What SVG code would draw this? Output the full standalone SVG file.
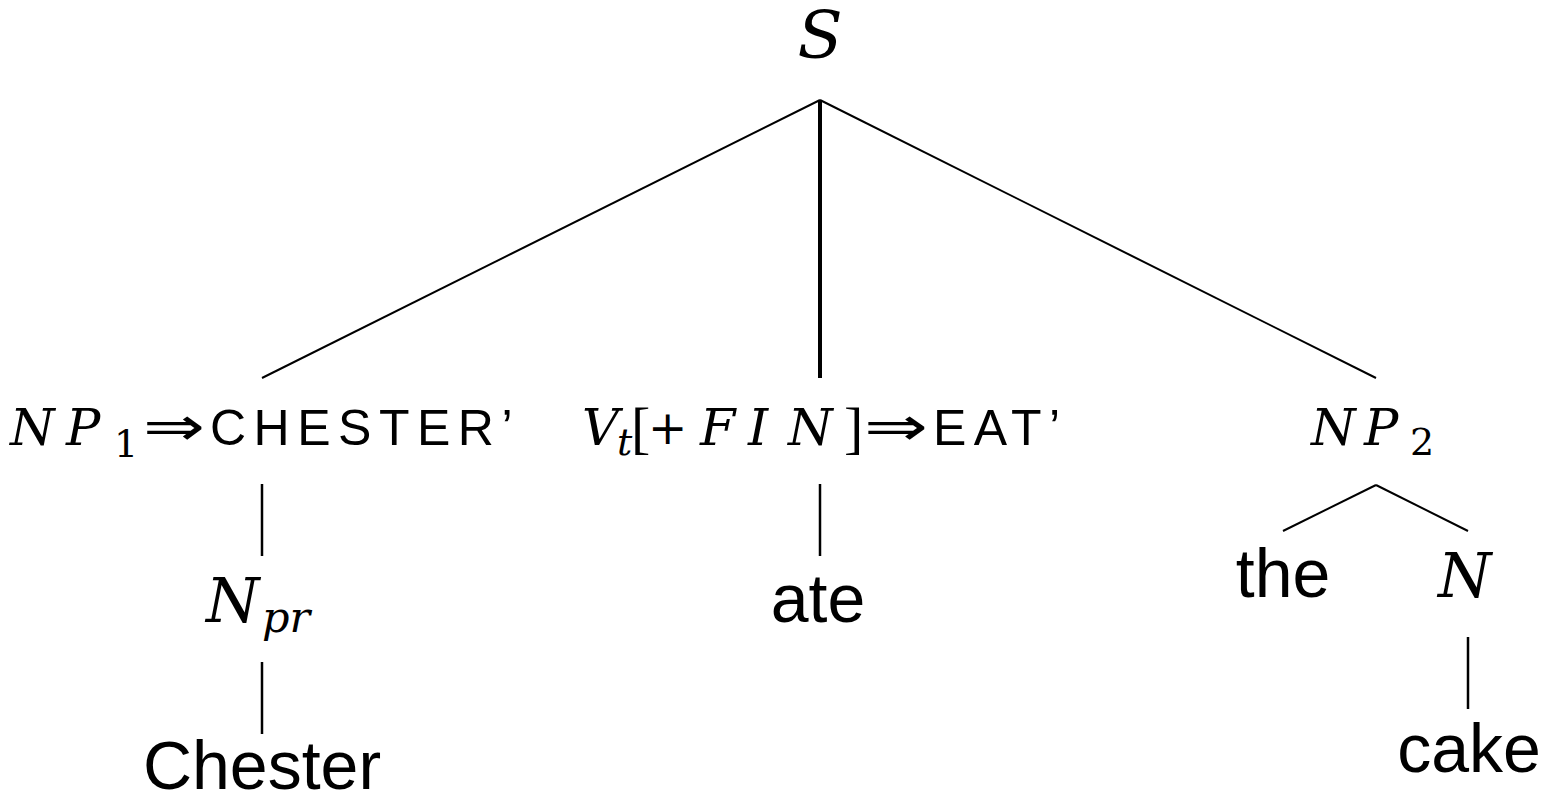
<svg xmlns="http://www.w3.org/2000/svg" width="1548" height="804" viewBox="0 0 1548 804">
<style>
.m{font-family:"DejaVu Serif","Liberation Serif",serif;font-style:italic;font-size:51px;fill:#000}
.up{font-family:"DejaVu Serif","Liberation Serif",serif;font-style:normal}
.br{font-family:"Liberation Serif","Times New Roman",serif;font-style:normal;font-size:58px;fill:#000}
.pl{font-family:"DejaVu Serif","Liberation Serif",serif;font-style:normal;font-size:47px;fill:#000}
.sub{font-size:38px}
.arr{font-family:"DejaVu Sans",sans-serif;font-size:54px;fill:#000}
.sc{font-family:"Liberation Sans",Arial,sans-serif;font-size:50px;letter-spacing:7.5px;fill:#000}
.w{font-family:"Liberation Sans",Arial,sans-serif;font-size:68px;fill:#000}
.e{stroke:#000;stroke-width:2;fill:none}
.v{stroke:#000;stroke-width:2.5;fill:none}
</style>
<rect width="1548" height="804" fill="#fff"/>
<g id="connectors">
<line class="e" x1="820" y1="100" x2="262" y2="378"/>
<line class="e" x1="820" y1="100" x2="1376" y2="378"/>
<line class="v" x1="820" y1="100" x2="820" y2="378" style="stroke-width:4"/>
<line class="v" x1="262" y1="484" x2="262" y2="556"/>
<line class="v" x1="262" y1="662" x2="262" y2="734"/>
<line class="v" x1="820" y1="484" x2="820" y2="556"/>
<line class="e" x1="1376" y1="485" x2="1283" y2="531"/>
<line class="e" x1="1376" y1="485" x2="1468" y2="531"/>
<line class="v" x1="1468" y1="637" x2="1468" y2="709"/>
</g>
<g id="S"><text class="m" x="820" y="58" text-anchor="middle" style="font-size:66px">S</text></g>
<g id="NP1">
<text class="m" y="445"><tspan x="10">N</tspan><tspan x="66">P</tspan><tspan class="up sub" x="114" dy="12">1</tspan></text>
<text class="arr" x="143" y="445" textLength="62" lengthAdjust="spacingAndGlyphs">⇒</text>
<text class="sc" x="210" y="445">CHESTER’</text>
</g>
<g id="Vt">
<text class="m" y="445"><tspan x="582">V</tspan><tspan class="sub" x="617" dy="10">t</tspan></text>
<text y="447"><tspan class="br" x="631">[</tspan><tspan class="pl" x="648" dy="-3">+</tspan></text>
<text class="m" y="445"><tspan x="700">F</tspan><tspan x="748">I</tspan><tspan x="788">N</tspan></text>
<text class="br" x="844" y="447">]</text>
<text class="arr" x="864" y="445" textLength="64" lengthAdjust="spacingAndGlyphs">⇒</text>
<text class="sc" x="933" y="445">EAT’</text>
</g>
<g id="NP2">
<text class="m" y="445"><tspan x="1311">N</tspan><tspan x="1364">P</tspan><tspan class="up sub" x="1410" dy="10">2</tspan></text>
</g>
<g id="Npr">
<text class="m" y="622" style="font-size:61px"><tspan x="206">N</tspan><tspan class="sub" x="262" dy="10" style="font-size:43px">pr</tspan></text>
</g>
<g id="Chester"><text class="w" x="262" y="789" text-anchor="middle">Chester</text></g>
<g id="ate"><text class="w" x="818" y="622" text-anchor="middle">ate</text></g>
<g id="the"><text class="w" x="1283" y="597" text-anchor="middle">the</text></g>
<g id="N"><text class="m" x="1438" y="597" style="font-size:61px">N</text></g>
<g id="cake"><text class="w" x="1469" y="772" text-anchor="middle">cake</text></g>
</svg>
